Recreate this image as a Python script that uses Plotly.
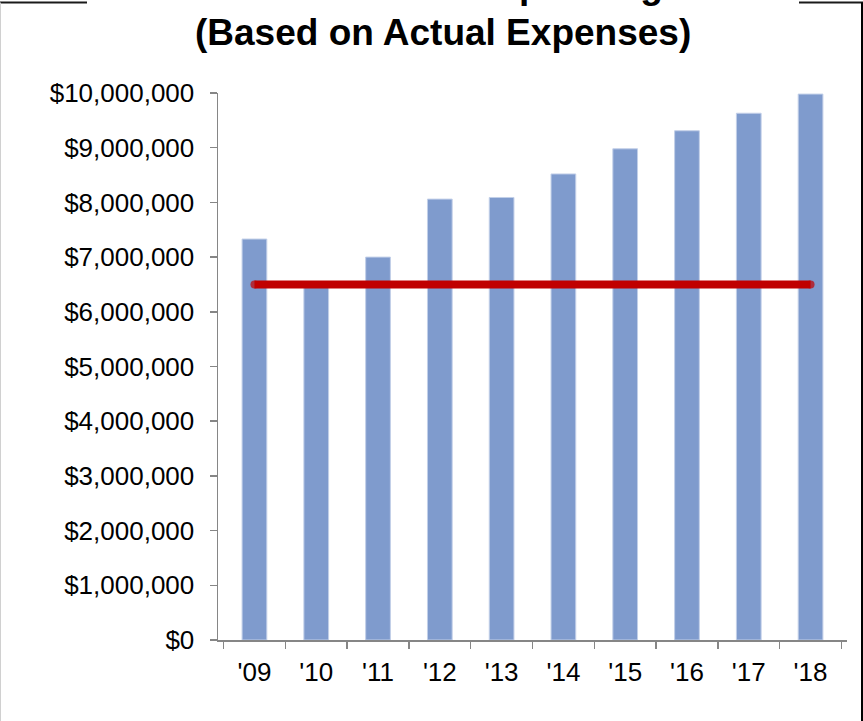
import plotly.graph_objects as go

# Fiscal years and actual expenses
years = ["'09", "'10", "'11", "'12", "'13", "'14", "'15", "'16", "'17", "'18"]
expenses = [7330000, 6450000, 7000000, 8060000, 8090000, 8520000, 8980000, 9310000, 9630000, 9980000]
baseline_level = 6500000
baseline = [baseline_level] * len(years)

title_line1 = "School District Spending"
title_line2 = "(Based on Actual Expenses)"

W, H = 863, 721
ML, MR, MT, MB = 218, 16, 93, 81
PW, PH = W - ML - MR, H - MT - MB

FONT = "Liberation Sans, Arial, sans-serif"


def px_x(px):
    return (px - ML) / PW


def px_y(py):
    return (H - MB - py) / PH


fig = go.Figure()

fig.add_trace(go.Bar(
    x=years,
    y=expenses,
    marker=dict(color="#7F9BCD", line=dict(color="#C2CFE8", width=1)),
    hoverinfo="skip",
))

n = len(years)
fig.add_trace(go.Scatter(
    x=years,
    y=baseline,
    mode="lines+markers",
    line=dict(color="#C00000", width=8),
    marker=dict(color="#C00000", size=[8] + [0] * (n - 2) + [8], line=dict(width=0)),
    hoverinfo="skip",
))

# Chart frame: top edge interrupted by the title, side edges
frame = [
    dict(x0=px_x(0), x1=px_x(87), y0=px_y(2.5), y1=px_y(2.5), color="#1a1a1a", width=2),
    dict(x0=px_x(799), x1=px_x(863), y0=px_y(2.5), y1=px_y(2.5), color="#1a1a1a", width=2),
    dict(x0=px_x(0.5), x1=px_x(0.5), y0=px_y(2.5), y1=px_y(721), color="#d0d0d0", width=1),
    dict(x0=px_x(862), x1=px_x(862), y0=px_y(2.5), y1=px_y(721), color="#000000", width=2),
]
shapes = [
    dict(type="line", xref="paper", yref="paper", x0=f["x0"], x1=f["x1"], y0=f["y0"], y1=f["y1"],
         line=dict(color=f["color"], width=f["width"]))
    for f in frame
]

annotations = [
    dict(text=title_line1, xref="paper", yref="paper", x=px_x(443), y=px_y(8.5),
         xanchor="center", yanchor="bottom", showarrow=False,
         font=dict(family=FONT, size=37, color="#000000")),
    dict(text=title_line2, xref="paper", yref="paper", x=px_x(443), y=px_y(55.5),
         xanchor="center", yanchor="bottom", showarrow=False,
         font=dict(family=FONT, size=37, color="#000000")),
]
for a in annotations:
    a["text"] = "<b>" + a["text"] + "</b>"

fig.update_layout(
    width=W,
    height=H,
    margin=dict(l=ML, r=MR, t=MT, b=MB, pad=0),
    paper_bgcolor="white",
    plot_bgcolor="white",
    showlegend=False,
    bargap=0.6,
    shapes=shapes,
    annotations=annotations,
    font=dict(family=FONT, size=26, color="#000000"),
)

fig.update_xaxes(
    type="category",
    showgrid=False,
    showline=True,
    linecolor="#868686",
    linewidth=1.5,
    ticks="outside",
    tickson="boundaries",
    ticklen=7,
    tickcolor="#868686",
    tickwidth=1.5,
    tickfont=dict(family=FONT, size=26, color="#000000"),
    ticklabelstandoff=8,
)

fig.update_yaxes(
    range=[0, 10000000],
    dtick=1000000,
    tickprefix="$",
    tickformat=",.0f",
    showgrid=False,
    zeroline=False,
    showline=True,
    linecolor="#868686",
    linewidth=1.5,
    ticks="outside",
    ticklen=7,
    tickcolor="#868686",
    tickwidth=1.5,
    tickfont=dict(family=FONT, size=26, color="#000000"),
    ticklabelstandoff=10,
)

fig.write_html("out.html", config={"displayModeBar": False, "staticPlot": True})
